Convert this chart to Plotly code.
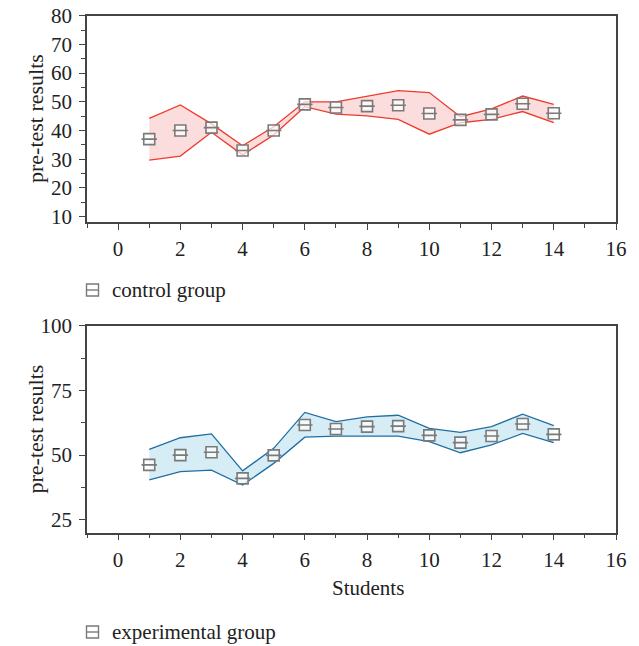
import plotly.graph_objects as go

students = list(range(1, 15))

control_mean = [37, 40, 41, 33, 40, 49.1, 48, 48.5, 48.8, 45.9, 43.7, 45.6, 49.3, 46]
control_upper = [44.2, 48.9, 42.3, 34.7, 41.3, 50, 50, 52, 53.9, 53.2, 44.8, 47.5, 52, 49.1]
control_lower = [29.7, 31.1, 39.4, 31.5, 38.4, 48.3, 45.7, 45.1, 43.9, 38.7, 42.7, 43.9, 46.6, 42.7]

exp_mean = [46.2, 50, 51.1, 41, 49.9, 61.6, 60.1, 61, 61.2, 57.6, 54.8, 57.4, 62, 58]
exp_upper = [52.2, 56.7, 58.2, 43.9, 52.6, 66.5, 62.9, 64.8, 65.4, 60.3, 58.8, 61, 65.8, 61.4]
exp_lower = [40.4, 43.6, 44.2, 38.4, 46.8, 56.9, 57.3, 57.3, 57.3, 55.2, 50.9, 53.9, 58.4, 54.8]

x_ticks = list(range(0, 17, 2))
top_y_ticks = list(range(10, 81, 10))
bot_y_ticks = [25, 50, 75, 100]

FONT = "Liberation Serif"
AX = "#444444"
MK = "#7a7a7a"
TXT = "#222222"
FS = 21

fig = go.Figure()

def add_group(xa, ya, mean, upper, lower, line_col, fill_col):
    fig.add_trace(go.Scatter(x=students, y=lower, mode="lines", line=dict(color=line_col, width=1.3),
                             xaxis=xa, yaxis=ya, showlegend=False, hoverinfo="skip"))
    fig.add_trace(go.Scatter(x=students, y=upper, mode="lines", line=dict(color=line_col, width=1.3),
                             fill="tonexty", fillcolor=fill_col,
                             xaxis=xa, yaxis=ya, showlegend=False, hoverinfo="skip"))
    fig.add_trace(go.Scatter(x=students, y=mean, mode="markers",
                             marker=dict(symbol="square", size=11, color="rgba(255,255,255,0.7)",
                                         line=dict(color=MK, width=1.6)),
                             xaxis=xa, yaxis=ya, showlegend=False))
    fig.add_trace(go.Scatter(x=students, y=mean, mode="markers",
                             marker=dict(symbol="line-ew", size=11, line=dict(color=MK, width=1.6)),
                             xaxis=xa, yaxis=ya, showlegend=False))

add_group("x", "y", control_mean, control_upper, control_lower, "#ef3b2c", "rgba(252,215,215,0.85)")
add_group("x2", "y2", exp_mean, exp_upper, exp_lower, "#1f6fa5", "rgba(205,232,243,0.8)")

xdom = [87 / 639, 616 / 639]
common_x = dict(range=[-1, 16], tickvals=x_ticks, ticks="outside", ticklen=6, tickwidth=1.2,
                tickcolor=AX, showline=True, linecolor=AX, linewidth=1.5, mirror=True,
                showgrid=False, zeroline=False, domain=xdom, ticklabelstandoff=1, automargin=False,
                tickfont=dict(family=FONT, size=FS, color=TXT),
                minor=dict(dtick=1, tick0=0, ticks="outside", ticklen=4, tickcolor=AX, showgrid=False))

common_y = dict(ticks="outside", ticklen=6, tickwidth=1.2, tickcolor=AX, showline=True, linecolor=AX,
                linewidth=1.5, mirror=True, showgrid=False, zeroline=False, ticklabelstandoff=3,
                automargin=False, tickfont=dict(family=FONT, size=FS, color=TXT))

fig.update_layout(
    width=639, height=646, margin=dict(l=0, r=0, t=0, b=0, autoexpand=False),
    plot_bgcolor="white", paper_bgcolor="white", showlegend=False,
    font=dict(family=FONT, color=TXT),
    xaxis=dict(anchor="y", **common_x),
    xaxis2=dict(anchor="y2", **common_x),
    yaxis=dict(domain=[1 - 222.3 / 646, 1 - 15.7 / 646], range=[8, 80], tickvals=top_y_ticks,
               minor=dict(dtick=5, tick0=0, ticks="outside", ticklen=4, tickcolor=AX, showgrid=False),
               **common_y),
    yaxis2=dict(domain=[1 - 532.7 / 646, 1 - 325.7 / 646], range=[20, 100], tickvals=bot_y_ticks,
                minor=dict(dtick=12.5, tick0=0, ticks="outside", ticklen=4, tickcolor=AX, showgrid=False),
                **common_y),
)

for cy in [(16 + 222) / 2, (326 + 533) / 2]:
    fig.add_annotation(text="pre-test results", x=35 / 639, y=1 - cy / 646, xref="paper", yref="paper",
                       textangle=-90, showarrow=False, xanchor="center", yanchor="middle",
                       font=dict(family=FONT, size=22, color=TXT))

fig.add_annotation(text="Students", x=368 / 639, y=1 - 588 / 646, xref="paper", yref="paper",
                   showarrow=False, yanchor="middle", font=dict(family=FONT, size=FS, color=TXT))

def legend_item(cy, label):
    x0, x1 = 86.5 / 639, 98.5 / 639
    y0, y1 = 1 - (cy + 6) / 646, 1 - (cy - 6) / 646
    fig.add_shape(type="rect", xref="paper", yref="paper", x0=x0, x1=x1, y0=y0, y1=y1,
                  line=dict(color=MK, width=1.4), fillcolor="white")
    fig.add_shape(type="line", xref="paper", yref="paper", x0=x0, x1=x1, y0=1 - cy / 646, y1=1 - cy / 646,
                  line=dict(color=MK, width=1.4))
    fig.add_annotation(text=label, x=110 / 639, y=1 - cy / 646, xref="paper", yref="paper",
                       xanchor="left", yanchor="middle", showarrow=False,
                       font=dict(family=FONT, size=FS, color=TXT))

legend_item(290, "control group")
legend_item(632, "experimental group")

fig.write_html("out.html")
